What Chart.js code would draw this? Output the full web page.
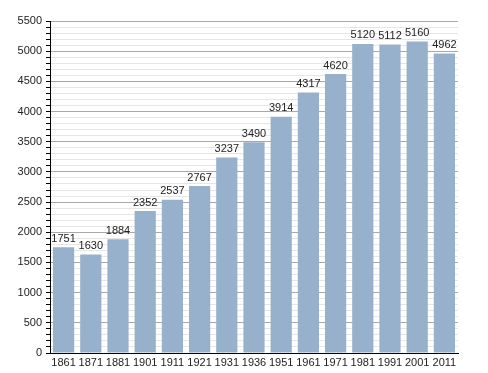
<!DOCTYPE html>
<html>
<head>
<meta charset="utf-8">
<script src="https://cdn.jsdelivr.net/npm/chart.js@4"></script>
<style>
  html, body { margin: 0; padding: 0; background: #fff; }
  #wrap { width: 488px; height: 373px; }
</style>
</head>
<body>
<div id="wrap"><canvas id="popChart"></canvas></div>
<script>
const years = ['1861', '1871', '1881', '1901', '1911', '1921', '1931', '1936', '1951', '1961', '1971', '1981', '1991', '2001', '2011'];
const population = [1751, 1630, 1884, 2352, 2537, 2767, 3237, 3490, 3914, 4317, 4620, 5120, 5112, 5160, 4962];

// labels above the bars
const valueLabels = {
    id: 'valueLabels',
    afterDatasetsDraw(chart) {
        const ctx = chart.ctx;
        const meta = chart.getDatasetMeta(0);
        ctx.save();
        ctx.font = '11px "Liberation Sans", Arial, sans-serif';
        ctx.fillStyle = '#222';
        ctx.textAlign = 'center';
        ctx.textBaseline = 'bottom';
        meta.data.forEach((bar, i) => {
            ctx.fillText(population[i], bar.x, bar.y - 3);
        });
        ctx.restore();
    }
};

new Chart(document.getElementById('popChart'), {
    type: 'bar',
    data: {
        labels: years,
        datasets: [{
            data: population,
            backgroundColor: '#97b1cd',
            categoryPercentage: 0.78,
            barPercentage: 1
        }]
    },
    options: {
        responsive: true,
        maintainAspectRatio: false,
        animation: false,
        layout: { padding: { top: 21, right: 30, left: 0, bottom: 0 } },
        plugins: { legend: { display: false }, tooltip: { enabled: false } },
        scales: {
            y: {
                min: 0,
                max: 5500,
                ticks: {
                    stepSize: 100,
                    autoSkip: false,
                    color: '#222',
                    font: { family: '"Liberation Sans", Arial, sans-serif', size: 11 },
                    padding: 4,
                    callback: v => (v % 500 === 0 ? v : '')
                },
                grid: {
                    color: c => (c.tick && c.tick.value % 500 === 0 ? '#a8a8a8' : '#e6e6e6'),
                    tickColor: '#000',
                    tickLength: 4
                },
                border: { color: '#000', width: 1 },
                afterFit: s => { s.width = 50; }
            },
            x: {
                ticks: {
                    color: '#222',
                    font: { family: '"Liberation Sans", Arial, sans-serif', size: 11 },
                    padding: 3,
                    autoSkip: false,
                    maxRotation: 0
                },
                grid: { display: false, drawTicks: false },
                border: { color: '#000', width: 1 },
                afterFit: s => { s.height = 20; }
            }
        }
    },
    plugins: [valueLabels]
});
</script>
</body>
</html>
